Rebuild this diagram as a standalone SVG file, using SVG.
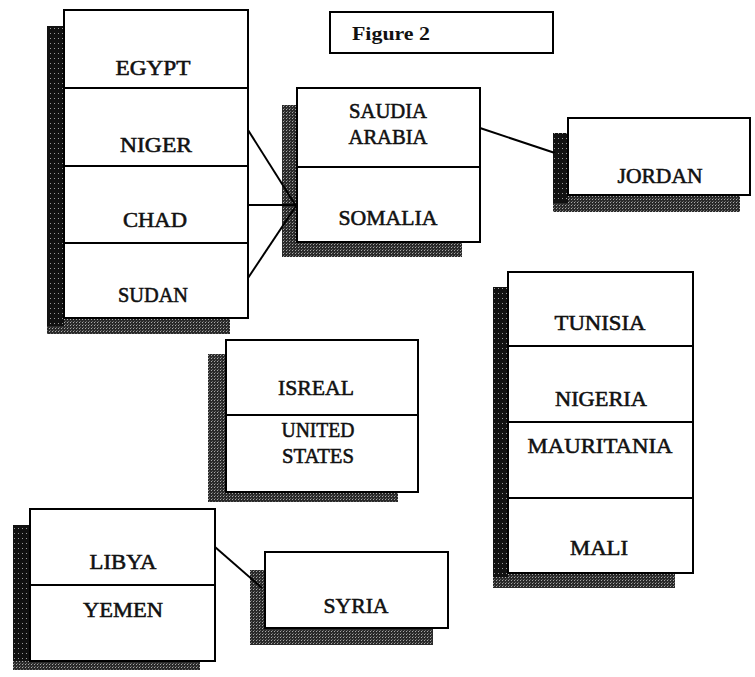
<svg xmlns="http://www.w3.org/2000/svg" width="755" height="677" viewBox="0 0 755 677">
<style>
.box{fill:#fff;stroke:#000;stroke-width:2}
.div{stroke:#000;stroke-width:2}
.sh{fill:url(#ht)}
.shd{fill:url(#dk)}
.t{font-size:21px;fill:#111;stroke:#111;stroke-width:0.55;text-anchor:middle}
.fig{font-size:18px;font-weight:bold;fill:#111}
.c{stroke:#000;stroke-width:2;fill:none}
</style>
<defs>
<pattern id="ht" width="3" height="3" patternUnits="userSpaceOnUse">
<rect width="3" height="3" fill="#2a2a2a"/>
<rect x="1" y="1" width="1" height="1" fill="#a8a8a8"/>
<rect x="2" y="0" width="1" height="1" fill="#666"/>
</pattern>
<pattern id="dk" width="4" height="5" patternUnits="userSpaceOnUse">
<rect width="4" height="5" fill="#111"/>
<rect x="2" y="3" width="1" height="1" fill="#999"/>
</pattern>
</defs>
<g font-family="Liberation Serif, Times New Roman, serif">
<g id="figure-label">
<rect class="box" x="330" y="12" width="223" height="41" stroke-width="1.5"/>
<text class="fig" x="352" y="40" textLength="78" lengthAdjust="spacingAndGlyphs">Figure 2</text>
</g>

<g id="node-egypt-group">
<rect class="sh" x="47" y="26" width="183" height="308"/>
<rect class="shd" x="47" y="26" width="17" height="300"/>
<rect class="box" x="64" y="10" width="184" height="308"/>
<line class="div" x1="64" y1="88" x2="248" y2="88"/>
<line class="div" x1="64" y1="166" x2="248" y2="166"/>
<line class="div" x1="64" y1="243" x2="248" y2="243"/>
<text class="t" x="153" y="75" textLength="75" lengthAdjust="spacingAndGlyphs">EGYPT</text>
<text class="t" x="156" y="152" textLength="72" lengthAdjust="spacingAndGlyphs">NIGER</text>
<text class="t" x="155" y="227" textLength="64" lengthAdjust="spacingAndGlyphs">CHAD</text>
<text class="t" x="153" y="302" textLength="70" lengthAdjust="spacingAndGlyphs">SUDAN</text>
</g>

<g id="node-saudia-somalia">
<rect class="sh" x="282" y="105" width="180" height="152"/>
<rect class="box" x="297" y="88" width="183" height="154"/>
<line class="div" x1="297" y1="167" x2="480" y2="167"/>
<text class="t" x="388" y="118" textLength="78" lengthAdjust="spacingAndGlyphs">SAUDIA</text>
<text class="t" x="388" y="144" textLength="79" lengthAdjust="spacingAndGlyphs">ARABIA</text>
<text class="t" x="388" y="225" textLength="99" lengthAdjust="spacingAndGlyphs">SOMALIA</text>
</g>

<g id="node-jordan">
<rect class="sh" x="553" y="133" width="187" height="79"/>
<rect class="shd" x="553" y="133" width="15" height="70"/>
<rect class="box" x="568" y="118" width="182" height="77"/>
<text class="t" x="660" y="183" textLength="85" lengthAdjust="spacingAndGlyphs">JORDAN</text>
</g>

<g id="node-tunisia-group">
<rect class="sh" x="493" y="287" width="182" height="301"/>
<rect class="shd" x="493" y="287" width="15" height="290"/>
<rect class="box" x="508" y="272" width="185" height="301"/>
<line class="div" x1="508" y1="346" x2="693" y2="346"/>
<line class="div" x1="508" y1="422" x2="693" y2="422"/>
<line class="div" x1="508" y1="498" x2="693" y2="498"/>
<text class="t" x="600" y="330" textLength="91" lengthAdjust="spacingAndGlyphs">TUNISIA</text>
<text class="t" x="601" y="406" textLength="92" lengthAdjust="spacingAndGlyphs">NIGERIA</text>
<text class="t" x="600" y="453" textLength="145" lengthAdjust="spacingAndGlyphs">MAURITANIA</text>
<text class="t" x="599" y="555" textLength="58" lengthAdjust="spacingAndGlyphs">MALI</text>
</g>

<g id="node-isreal-us">
<rect class="sh" x="208" y="354" width="190" height="148"/>
<rect class="box" x="226" y="340" width="192" height="152"/>
<line class="div" x1="226" y1="415" x2="418" y2="415"/>
<text class="t" x="316" y="395" textLength="76" lengthAdjust="spacingAndGlyphs">ISREAL</text>
<text class="t" x="318" y="437" textLength="73" lengthAdjust="spacingAndGlyphs">UNITED</text>
<text class="t" x="318" y="463" textLength="72" lengthAdjust="spacingAndGlyphs">STATES</text>
</g>

<g id="node-libya-yemen">
<rect class="sh" x="13" y="525" width="187" height="145"/>
<rect class="shd" x="13" y="525" width="17" height="136"/>
<rect class="box" x="30" y="509" width="185" height="152"/>
<line class="div" x1="30" y1="585" x2="215" y2="585"/>
<text class="t" x="123" y="569" textLength="67" lengthAdjust="spacingAndGlyphs">LIBYA</text>
<text class="t" x="123" y="617" textLength="80" lengthAdjust="spacingAndGlyphs">YEMEN</text>
</g>

<g id="node-syria">
<rect class="sh" x="250" y="570" width="183" height="75"/>
<rect class="box" x="265" y="552" width="183" height="76"/>
<text class="t" x="356" y="613" textLength="65" lengthAdjust="spacingAndGlyphs">SYRIA</text>
</g>
</g>
<g id="connectors">
<line class="c" x1="248" y1="130" x2="296" y2="206"/>
<line class="c" x1="248" y1="205" x2="296" y2="205"/>
<line class="c" x1="248" y1="278" x2="296" y2="206"/>
<line class="c" x1="480" y1="128" x2="555" y2="153"/>
<line class="c" x1="215" y1="547" x2="262" y2="588"/>
</g>
</svg>
